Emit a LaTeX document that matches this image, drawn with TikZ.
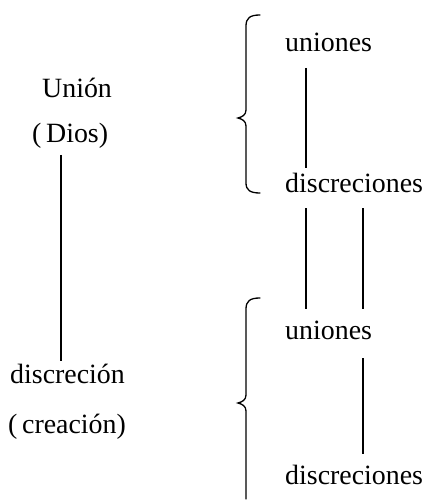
\documentclass[tikz,border=0pt]{standalone}
\usepackage{fontspec}
\setmainfont{Liberation Serif}
\begin{document}
\begin{tikzpicture}[x=1bp,y=-1bp,
  lbl/.style={anchor=base west,inner sep=0pt,font=\fontsize{28}{32}\selectfont},
  conn/.style={line width=1.3bp},
  brace/.style={line width=1.3bp,line cap=round}]
\useasboundingbox (0,0) rectangle (426,503);
% left column
\node[lbl] (union) at (42,98) {Unión};
\node[lbl] (dios) at (32,143) {(\,Dios)};
\node[lbl] (discrecion) at (10,383) {discreción};
\node[lbl] (creacion) at (8,433) {(\,creación)};
\coordinate (l1) at (61,155);
\coordinate (l2) at (61,361);
\draw[conn] (l1) -- (l2);
% right top
\node[lbl] (u1) at (285,52) {uniones};
\node[lbl] (d1) at (285,193) {discreciones};
\coordinate (a1) at (306,68);
\coordinate (a2) at (306,168);
\draw[conn] (a1) -- (a2);
\coordinate (b1) at (306,208);
\coordinate (b2) at (306,309);
\coordinate (c1) at (363,208);
\coordinate (c2) at (363,309);
\draw[conn] (b1) -- (b2);
\draw[conn] (c1) -- (c2);
% right bottom
\node[lbl] (u2) at (285,339) {uniones};
\node[lbl] (d2) at (285,484) {discreciones};
\coordinate (e1) at (363,358);
\coordinate (e2) at (363,454);
\draw[conn] (e1) -- (e2);
% braces
\draw[brace] (260,15) .. controls (250,15) and (246,18) .. (246,26)
  -- (246,110) .. controls (246,115) and (242,117) .. (238,118)
  .. controls (242,119) and (246,121) .. (246,126)
  -- (246,183) .. controls (246,190) and (250,193) .. (260,193);
\draw[brace] (260,298) .. controls (250,298) and (246,301) .. (246,309)
  -- (246,395) .. controls (246,400) and (242,402) .. (238,403)
  .. controls (242,404) and (246,406) .. (246,411)
  -- (246,499);
\end{tikzpicture}
\end{document}
